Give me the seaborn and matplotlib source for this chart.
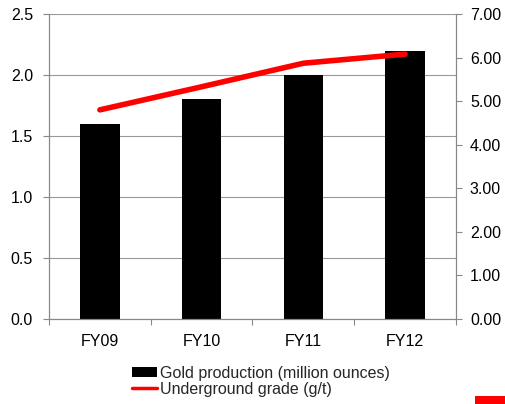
import seaborn as sns
import numpy as np
import matplotlib.pyplot as plt
from matplotlib.patches import Rectangle

sns.set_style('white')
plt.rcParams['font.family'] = ['Liberation Sans', 'DejaVu Sans']

years = ['FY09', 'FY10', 'FY11', 'FY12']
gold = [1.6, 1.8, 2.0, 2.2]
grade = [4.80, 5.33, 5.87, 6.08]

fig = plt.figure(figsize=(5.06, 4.04), dpi=100)
ax = fig.add_axes([49 / 506, 1 - 319 / 404, 407 / 506, 305 / 404])

sns.barplot(x=years, y=gold, color='black', width=0.39, saturation=1, ax=ax,
            linewidth=0, label='Gold production (million ounces)')
ax.set_xlim(-0.5, 3.5)
ax.set_ylim(0, 2.5)
ax.set_yticks(np.arange(0, 2.51, 0.5))
ax.set_yticklabels([f'{v:.1f}' for v in np.arange(0, 2.51, 0.5)])
ax.yaxis.grid(True, color='#999999', linewidth=0.8)
ax.set_axisbelow(True)

ax2 = ax.twinx()
sns.lineplot(x=np.arange(len(years)), y=grade, color='#ff0000', linewidth=4,
             ax=ax2, legend=False)
ax2.set_ylim(0, 7)
ax2.set_yticks(np.arange(0, 7.01, 1))
ax2.set_yticklabels([f'{v:.2f}' for v in np.arange(0, 7.01, 1)])

for a in (ax, ax2):
    for s in a.spines.values():
        s.set_color('#888888')
        s.set_linewidth(0.8)
    a.spines['top'].set_visible(False)
    a.tick_params(colors='black', labelsize=11.5, length=4.5, width=0.8,
                  direction='out', color='#888888')
ax.tick_params(axis='y', left=True, pad=7)
ax2.tick_params(axis='y', right=True, pad=5.5)

# ticks on x between categories
ax.set_xticks(np.arange(len(years)))
ax.set_xticklabels(years)
ax.tick_params(axis='x', length=0, pad=11)
ax.set_xticks(np.arange(-0.5, len(years), 1), minor=True)
ax.tick_params(axis='x', which='minor', bottom=True, length=4.5, width=0.8,
               color='#888888', direction='out')

bar_handle = Rectangle((0, 0), 1, 1, facecolor='black', edgecolor='none')
line_handle = plt.Line2D([], [], color='#ff0000', linewidth=2.5)
ax.legend([bar_handle, line_handle],
          ['Gold production (million ounces)', 'Underground grade (g/t)'],
          loc='upper left', bbox_to_anchor=(124 / 506, 1 - 358 / 404),
          bbox_transform=fig.transFigure, frameon=False, fontsize=11.5,
          handlelength=1.55, handleheight=0.6, handletextpad=0.2,
          labelspacing=0.05, borderpad=0)

fig.patches.append(Rectangle((475 / 506, 0), 31 / 506, 8 / 404, transform=fig.transFigure,
                             facecolor='#ff0000', edgecolor='none'))

fig.savefig('out.png', dpi=100)
